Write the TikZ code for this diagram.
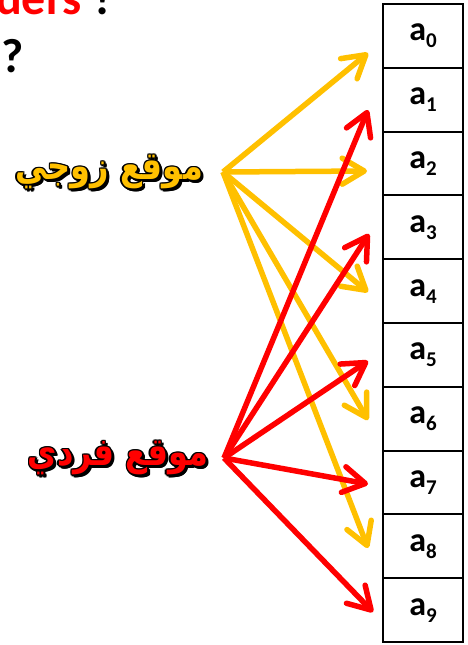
\documentclass[tikz,border=0pt]{standalone}
\usepackage{fontspec}
\setmainfont{Carlito}
\newfontfamily\arabicfont[Script=Arabic]{DejaVu Sans}
\TeXXeTstate=1
\usetikzlibrary{arrows.meta}
\definecolor{gold}{HTML}{FFC000}
\definecolor{hotred}{HTML}{FF0000}

\newcommand\idx[1]{\raisebox{-7pt}{\fontsize{21}{21}\selectfont#1}}
\newcommand\evenword{\scalebox{1}[1.2]{\beginR موقع زوجي\endR}}
\newcommand\oddword{\scalebox{1}[1.2]{\beginR موقع فردي\endR}}

\tikzset{
  cell/.style={draw,line width=2pt,minimum width=80pt,minimum height=63.8pt,
    inner sep=0pt,font=\bfseries\fontsize{34}{34}\selectfont},
  arlabel/.style={font=\arabicfont\bfseries\fontsize{32}{32}\selectfont,inner sep=0pt},
  pointer/.style={line width=5.5pt,
    -{Straight Barb[length=22pt,width=26pt,round]}},
}

\begin{document}
\begin{tikzpicture}[x=1pt,y=-1pt]
  \useasboundingbox (0,0) rectangle (467,645);
  \clip (0,0) rectangle (467,645);

  % cut title lines
  \node[anchor=base west,inner sep=0pt,text=hotred,
    font=\bfseries\fontsize{48}{48}\selectfont] (title) at (-4,14)
    {ders \textcolor{black}{?}};
  \node[anchor=base west,inner sep=0pt,
    font=\bfseries\fontsize{48}{48}\selectfont] (quest) at (1,72) {?};

  % array cells
  \foreach \i in {0,...,9}
    \node[cell] (a\i) at (423,35.9+63.8*\i) {a\idx{\i}};

  % dark rim and shadow of the labels
  \foreach \dx/\dy in {-1.5/0,1.5/0,0/-1.5,0/1.5,-1/-1,1/1,-1/1,1/-1,2.5/2.5,2/3,3/2} {
    \node[arlabel,text=black] at (109+\dx,172+\dy) {\evenword};
    \node[arlabel,text=black] at (118+\dx,458+\dy) {\oddword};
  }
  \node[arlabel,text=gold] (even) at (109,172) {\evenword};
  \node[arlabel,text=hotred] (odd) at (118,458) {\oddword};

  \coordinate (ev) at (223,172);
  \coordinate (od) at (224,458);

  % even positions
  \foreach \i/\tx/\ty in {0/368/53,2/367/171,4/368/292,6/368/420,8/368/548} {
    \coordinate (tip\i) at (\tx,\ty);
    \draw[pointer,gold] (ev) -- (tip\i);
  }
  % odd positions
  \foreach \i/\tx/\ty in {1/368/110,3/369/234,5/368/361,7/368/484,9/373/612} {
    \coordinate (tip\i) at (\tx,\ty);
    \draw[pointer,hotred] (od) -- (tip\i);
  }
\end{tikzpicture}
\end{document}
